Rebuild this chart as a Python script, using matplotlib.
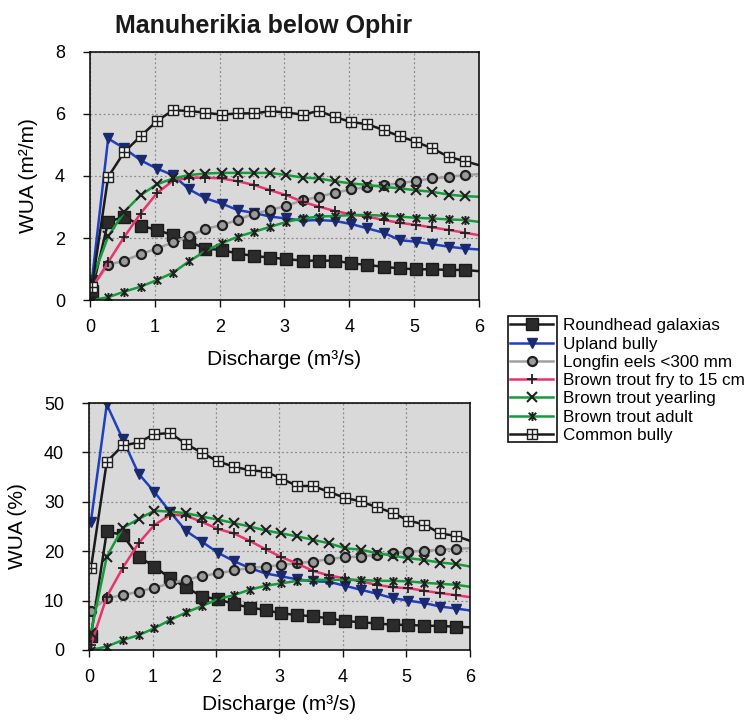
import matplotlib
matplotlib.use("Agg")
import matplotlib.pyplot as plt
from matplotlib.path import Path
from matplotlib.patches import Rectangle

plt.rcParams['font.family'] = ['Liberation Sans', 'DejaVu Sans']

# Discharge values (m3/s); last value is where the lines end at the axis edge
discharge = [0.03, 0.28, 0.53, 0.78, 1.03, 1.28, 1.53, 1.78, 2.03, 2.28, 2.53, 2.78,
             3.03, 3.28, 3.53, 3.78, 4.03, 4.28, 4.53, 4.78, 5.03, 5.28, 5.53, 5.78, 6.0]

species = ["Roundhead galaxias", "Upland bully", "Longfin eels <300 mm",
           "Brown trout fry to 15 cm", "Brown trout yearling", "Brown trout adult",
           "Common bully"]

# WUA (m2/m)
galaxias_m = [0.30, 2.52, 2.69, 2.40, 2.26, 2.09, 1.88, 1.66, 1.61, 1.50, 1.42, 1.37, 1.32,
              1.27, 1.27, 1.27, 1.18, 1.13, 1.07, 1.02, 0.99, 0.99, 0.97, 0.97, 0.93]
upland_m = [0.64, 5.21, 4.89, 4.51, 4.24, 4.03, 3.57, 3.28, 3.11, 2.90, 2.81, 2.69, 2.63,
            2.56, 2.58, 2.55, 2.45, 2.31, 2.17, 1.93, 1.88, 1.80, 1.72, 1.66, 1.63]
eels_m = [0.40, 1.13, 1.27, 1.48, 1.66, 1.86, 2.06, 2.29, 2.42, 2.58, 2.79, 2.90, 3.04,
          3.22, 3.33, 3.46, 3.57, 3.65, 3.71, 3.76, 3.85, 3.92, 3.97, 4.03, 4.06]
fry_m = [0.38, 1.22, 2.04, 2.79, 3.44, 3.85, 3.94, 3.95, 3.92, 3.83, 3.71, 3.54, 3.38,
         3.17, 3.01, 2.87, 2.76, 2.69, 2.58, 2.49, 2.42, 2.34, 2.26, 2.17, 2.09]
yearling_m = [0.64, 2.05, 2.85, 3.38, 3.73, 3.92, 4.03, 4.08, 4.10, 4.10, 4.10, 4.10, 4.03,
              3.95, 3.92, 3.83, 3.76, 3.71, 3.65, 3.60, 3.54, 3.49, 3.40, 3.35, 3.33]
adult_m = [0.00, 0.09, 0.27, 0.43, 0.64, 0.88, 1.25, 1.58, 1.83, 2.04, 2.20, 2.36, 2.52,
           2.63, 2.69, 2.71, 2.74, 2.74, 2.72, 2.69, 2.65, 2.63, 2.60, 2.58, 2.52]
common_m = [0.43, 3.97, 4.78, 5.28, 5.77, 6.12, 6.10, 6.04, 5.98, 6.02, 6.02, 6.09, 6.05,
            5.98, 6.10, 5.90, 5.74, 5.67, 5.48, 5.28, 5.10, 4.89, 4.62, 4.48, 4.35]

# WUA (%)
galaxias_p = [2.8, 24.0, 23.3, 18.9, 16.9, 14.5, 12.7, 10.8, 10.3, 9.3, 8.6, 8.1, 7.4,
              7.1, 6.8, 6.4, 5.9, 5.6, 5.4, 5.1, 5.1, 4.9, 4.9, 4.7, 4.6]
upland_p = [26.0, 49.7, 42.7, 35.7, 32.0, 27.9, 24.1, 21.9, 19.7, 18.0, 16.6, 15.5, 14.9,
            14.3, 13.9, 13.8, 13.0, 12.2, 11.4, 10.5, 10.0, 9.5, 8.8, 8.4, 8.0]
eels_p = [7.9, 10.5, 11.1, 11.8, 12.6, 13.5, 14.2, 15.0, 15.5, 16.1, 16.6, 16.9, 17.2,
          17.6, 17.9, 18.4, 18.8, 18.9, 19.3, 19.6, 19.9, 20.1, 20.3, 20.5, 20.6]
fry_p = [1.0, 10.8, 16.6, 21.6, 25.3, 27.4, 27.2, 25.9, 24.5, 23.6, 22.1, 20.4, 18.8,
         17.5, 16.0, 15.1, 14.5, 13.9, 13.2, 12.7, 12.5, 12.0, 11.5, 11.1, 10.7]
yearling_p = [3.4, 18.9, 24.7, 26.5, 28.2, 28.0, 27.7, 27.0, 26.4, 25.7, 25.0, 24.2, 23.6,
              23.0, 22.3, 21.6, 20.6, 20.3, 19.6, 19.1, 18.6, 18.2, 17.7, 17.4, 16.9]
adult_p = [0.0, 0.7, 2.0, 3.0, 4.4, 6.1, 7.6, 8.9, 10.3, 11.1, 12.2, 13.0, 13.5,
           14.0, 14.2, 14.2, 14.2, 14.2, 14.0, 14.0, 13.9, 13.6, 13.4, 13.2, 12.8]
common_p = [16.5, 38.1, 41.4, 42.0, 43.7, 43.9, 41.7, 39.9, 38.2, 37.1, 36.4, 36.1, 34.7,
            33.2, 33.2, 32.0, 30.8, 30.1, 28.9, 27.8, 26.2, 25.4, 23.6, 23.1, 22.1]

# custom markers
star_path = Path([(-1, -1), (1, 1), (-1, 1), (1, -1), (0, -1.2), (0, 1.2)],
                 [Path.MOVETO, Path.LINETO, Path.MOVETO, Path.LINETO, Path.MOVETO, Path.LINETO])
boxplus_path = Path([(-1, -1), (1, -1), (1, 1), (-1, 1), (-1, -1),
                     (0, -1), (0, 1), (-1, 0), (1, 0)],
                    [Path.MOVETO, Path.LINETO, Path.LINETO, Path.LINETO, Path.CLOSEPOLY,
                     Path.MOVETO, Path.LINETO, Path.MOVETO, Path.LINETO])

styles = [
    dict(color='#1a1a1a', marker='s', ms=8, mfc='#2b2b2b', mec='#1a1a1a', mew=1.0),
    dict(color='#1f3fbf', marker='v', ms=6.5, mfc='#1a2a70', mec='#1a2a70', mew=1.0),
    dict(color='#a0a0a0', marker='o', ms=6.5, mfc='#9a9a9a', mec='#202020', mew=1.6),
    dict(color='#e8336b', marker='+', ms=6.5, mfc='none', mec='#202020', mew=1.3),
    dict(color='#179a3a', marker='x', ms=6.5, mfc='none', mec='#202020', mew=1.5),
    dict(color='#179a3a', marker=star_path, ms=6.5, mfc='none', mec='#202020', mew=1.4),
    dict(color='#1a1a1a', marker=boxplus_path, ms=6.5, mfc='#f2f2f2', mec='#202020', mew=1.0),
]

series_m = [galaxias_m, upland_m, eels_m, fry_m, yearling_m, adult_m, common_m]
series_p = [galaxias_p, upland_p, eels_p, fry_p, yearling_p, adult_p, common_p]

W, H = 754, 723
fig = plt.figure(figsize=(W / 100, H / 100), dpi=100)

ax1 = fig.add_axes([90 / W, 1 - 300 / H, 389 / W, 248 / H])
ax2 = fig.add_axes([89 / W, 1 - 650 / H, 381 / W, 247 / H])

nmark = list(range(len(discharge) - 1))

handles = []
for ax, data, ymax, yticks, xlp in [(ax1, series_m, 8, [0, 2, 4, 6, 8], 10),
                                    (ax2, series_p, 50, [0, 10, 20, 30, 40, 50], 6)]:
    ax.set_facecolor('#d9d9d9')
    for name, vals, st in zip(species, data, styles):
        ln, = ax.plot(discharge, vals, color=st['color'], lw=1.8, marker=st['marker'],
                      markersize=st['ms'], markerfacecolor=st['mfc'],
                      markeredgecolor=st['mec'], markeredgewidth=st['mew'],
                      markevery=nmark, label=name, clip_on=True)
        if ax is ax1:
            handles.append(ln)
    ax.set_xlim(0, 6)
    ax.set_ylim(0, ymax)
    ax.set_xticks([0, 1, 2, 3, 4, 5, 6])
    ax.set_yticks(yticks)
    ax.grid(True, color='#8a8a8a', linestyle=(0, (1.5, 2)), linewidth=0.9)
    ax.set_axisbelow(True)
    for sp in ax.spines.values():
        sp.set_color('#111111')
        sp.set_linewidth(1.2)
    ax.tick_params(direction='out', length=5, width=1, labelsize=13, color='#111111')
    ax.tick_params(axis='y', pad=13)
    ax.tick_params(axis='x', pad=9)
    ax.set_xlabel('Discharge (m³/s)', fontsize=15, labelpad=xlp)

ax1.set_ylabel('WUA (m²/m)', fontsize=15, labelpad=12)
ax2.set_ylabel('WUA (%)', fontsize=15, labelpad=12)

fig.text(264 / W, 1 - 26 / H, 'Manuherikia below Ophir', ha='center', va='center',
         fontsize=18, fontweight='bold', color='#1a1a1a')

leg = fig.legend(handles=handles, labels=species, loc='upper left',
                 bbox_to_anchor=(507 / W, 1 - 315 / H), frameon=False,
                 fontsize=12.3, handlelength=2.5, handletextpad=0.55,
                 labelspacing=0.19, borderpad=0.2, borderaxespad=0.0)
fig.patches.append(Rectangle((508 / W, 1 - 442 / H), 49 / W, 126 / H,
                             transform=fig.transFigure, fill=False,
                             edgecolor='#111111', linewidth=1.2))

fig.savefig('out.png', dpi=100)
